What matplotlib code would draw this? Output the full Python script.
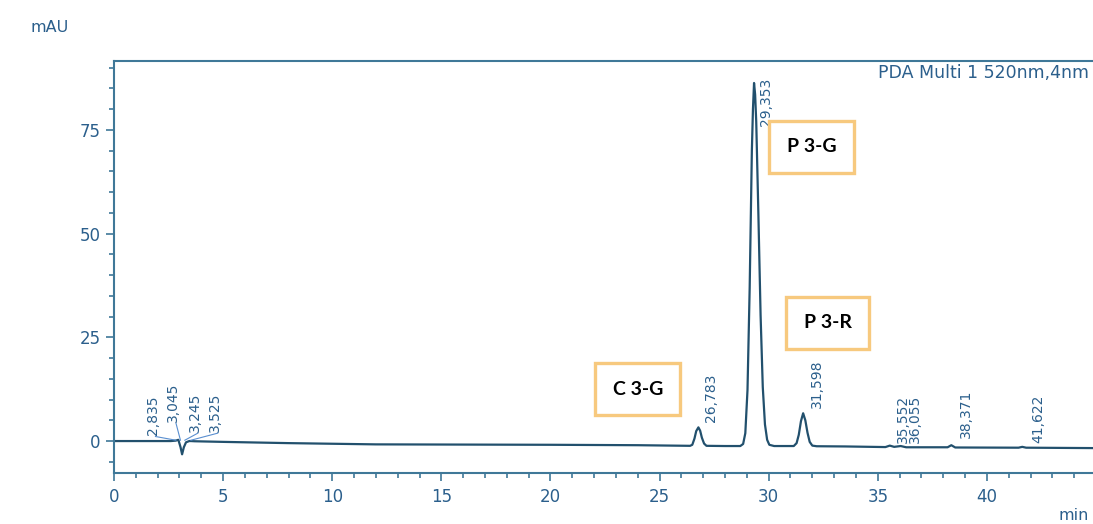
import matplotlib.pyplot as plt
from matplotlib.ticker import MultipleLocator, FixedLocator

# ============================================================
# 1. Data
# ============================================================

# Detector trace (time in min, signal in mAU)
trace_t = [
    0.0, 2.0, 2.6, 2.83, 2.95, 3.05, 3.12, 3.2, 3.3, 3.45, 3.52, 3.7,
    5.0, 8.0, 12.0, 16.0, 20.0, 24.0, 26.4, 26.5, 26.6, 26.68, 26.78,
    26.86, 26.94, 27.04, 27.15, 28.0, 28.7, 28.83, 28.93, 29.03, 29.13,
    29.23, 29.28, 29.33, 29.38, 29.43, 29.53, 29.63, 29.73, 29.83,
    29.93, 30.03, 30.25, 31.15, 31.28, 31.38, 31.48, 31.58, 31.68,
    31.78, 31.88, 32.0, 32.2, 33.5, 35.35, 35.55, 35.75, 36.05, 36.3,
    38.2, 38.37, 38.55, 41.45, 41.62, 41.8, 45.0,
]
trace_mau = [
    0.0, 0.0, 0.0, 0.1, 0.3, -1.5, -3.2, -1.5, -0.3, 0.0, 0.0, -0.05,
    -0.2, -0.5, -0.8, -0.85, -0.9, -1.0, -1.15, -0.9, 0.6, 2.4, 3.3,
    2.5, 0.8, -0.6, -1.15, -1.2, -1.2, -0.7, 1.9, 12.3, 37.0,
    70.0, 80.0, 86.3, 83.5, 77.0, 54.4, 30.3, 13.0, 4.0,
    0.3, -0.9, -1.2, -1.2, -0.5, 1.5, 4.8, 6.7, 5.0,
    2.0, -0.2, -1.1, -1.25, -1.3, -1.45, -1.1, -1.4, -1.2, -1.5,
    -1.5, -1.0, -1.55, -1.6, -1.4, -1.6, -1.7,
]

# Integrated peaks
peak_rt = [2.835, 3.045, 3.245, 3.525, 26.783, 29.353, 31.598,
           35.552, 36.055, 38.371, 41.622]
peak_labels = ["2,835", "3,045", "3,245", "3,525", "26,783", "29,353",
               "31,598", "35,552", "36,055", "38,371", "41,622"]

# Compound annotations
compounds = ["C 3-G", "P 3-G", "P 3-R"]

# ============================================================
# 2. Layout
# ============================================================

# where each rotated retention-time label sits (bottom centre)
label_x = [1.78, 2.72, 3.72, 4.63, 27.36, 29.88, 32.22, 36.16, 36.71, 39.05, 42.35]
label_y = [1.4, 4.6, 2.2, 2.2, 4.5, 76.0, 7.9, -0.4, -0.4, 0.8, -0.4]
# compound box centres
compound_x = [24.0, 31.97, 32.7]
compound_y = [12.5, 70.9, 28.5]

AXIS_COLOR = "#3f7898"
TEXT_COLOR = "#2b5f8c"
TRACE_COLOR = "#22506d"
BOX_EDGE = "#f7c97e"

plt.rcParams["font.family"] = ["DejaVu Sans"]

# ============================================================
# 3. Chart
# ============================================================

W, H = 1093, 524
fig = plt.figure(figsize=(W / 100, H / 100), dpi=100)
ax = fig.add_axes([114 / W, 1 - 473 / H, (1096 - 114) / W, (473 - 61) / H])

ax.plot(trace_t, trace_mau, color=TRACE_COLOR, lw=1.6)

# retention-time labels
for i, (rt, lab) in enumerate(zip(peak_rt, peak_labels)):
    ax.text(label_x[i], label_y[i], lab, rotation=90, ha="center", va="bottom",
            fontsize=10, color=TEXT_COLOR)

# leader lines for the crowded labels near 3 min
for i in range(4):
    ax.plot([label_x[i] + 0.12, peak_rt[i]], [label_y[i] - 0.3, 0.2],
            color="#5a8fd0", lw=0.8)

# compound name boxes
for name, cx, cy in zip(compounds, compound_x, compound_y):
    ax.text(cx, cy, name, ha="center", va="center", fontsize=14,
            fontweight="bold", family="Lato", color="black",
            bbox=dict(boxstyle="square,pad=0.9", fc="white", ec=BOX_EDGE, lw=2.4))

ax.set_xlim(0, 45)
ax.set_ylim(-7.7, 91.6)

ax.xaxis.set_major_locator(FixedLocator([0, 5, 10, 15, 20, 25, 30, 35, 40]))
ax.xaxis.set_minor_locator(MultipleLocator(1))
ax.yaxis.set_major_locator(FixedLocator([0, 25, 50, 75]))
ax.yaxis.set_minor_locator(MultipleLocator(5))

ax.tick_params(which="both", direction="out", color=AXIS_COLOR, labelcolor=TEXT_COLOR,
               labelsize=12, width=1.2)
ax.tick_params(which="major", length=6)
ax.tick_params(which="minor", length=3.5)
ax.tick_params(axis="x", pad=5)

for side in ["top", "left", "bottom"]:
    ax.spines[side].set_color(AXIS_COLOR)
    ax.spines[side].set_linewidth(1.5)
ax.spines["right"].set_visible(False)

fig.text(30 / W, 1 - 27 / H, "mAU", fontsize=11.5, color=TEXT_COLOR, va="center")
fig.text(1058 / W, 1 - 515 / H, "min", fontsize=11.5, color=TEXT_COLOR, va="center")
fig.text(1089 / W, 1 - 73 / H, "PDA Multi 1 520nm,4nm", fontsize=12.5,
         color=TEXT_COLOR, va="center", ha="right")

fig.savefig("out.png", dpi=100)
